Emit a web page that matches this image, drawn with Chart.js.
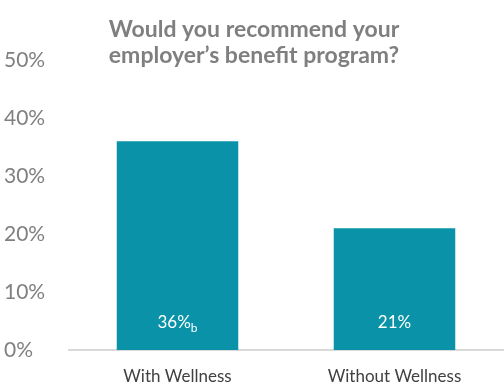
<!DOCTYPE html>
<html>
<head>
<meta charset="utf-8">
<script src="https://cdn.jsdelivr.net/npm/chart.js@4/dist/chart.umd.min.js"></script>
<style>
  html, body { margin: 0; padding: 0; background: #fff; }
  #wrap { width: 504px; height: 389px; }
</style>
</head>
<body>
<div id="wrap"><canvas id="chart"></canvas></div>
<script>
// data
const categories = ['With Wellness', 'Without Wellness'];
const values = [36, 21];
const labelNotes = ['b', ''];
const titleLines = ['Would you recommend your', 'employer\u2019s benefit program?'];
const yTicks = [0, 10, 20, 30, 40, 50];

const FONT = 'Lato, "Open Sans", sans-serif';

// title drawn over the plot top, like the original
const titlePlugin = {
  id: 'overTitle',
  afterDraw(chart) {
    const ctx = chart.ctx;
    ctx.save();
    ctx.font = 'bold 23px ' + FONT;
    ctx.fillStyle = '#7f7f7f';
    ctx.textAlign = 'center';
    ctx.textBaseline = 'alphabetic';
    titleLines.forEach((t, i) => ctx.fillText(t, 254, 37 + i * 26));
    ctx.restore();
  }
};

// value labels at the foot of each bar, with the small subscript note
const barLabels = {
  id: 'barLabels',
  afterDatasetsDraw(chart) {
    const ctx = chart.ctx;
    const meta = chart.getDatasetMeta(0);
    ctx.save();
    ctx.fillStyle = '#ffffff';
    ctx.textBaseline = 'alphabetic';
    meta.data.forEach((bar, i) => {
      const main = values[i] + '%';
      const note = labelNotes[i];
      ctx.font = '17px ' + FONT;
      const w1 = ctx.measureText(main).width;
      ctx.font = '12px ' + FONT;
      const w2 = note ? ctx.measureText(note).width : 0;
      const x0 = bar.x - (w1 + w2) / 2;
      const base = bar.base - 22;
      ctx.font = '17px ' + FONT;
      ctx.textAlign = 'left';
      ctx.fillText(main, x0, base);
      if (note) {
        ctx.font = '12px ' + FONT;
        ctx.fillText(note, x0 + w1, base + 4);
      }
    });
    ctx.restore();
  }
};

new Chart(document.getElementById('chart'), {
  type: 'bar',
  data: {
    labels: categories,
    datasets: [{
      data: values,
      backgroundColor: '#0a93a8',
      categoryPercentage: 0.56,
      barPercentage: 1
    }]
  },
  options: {
    responsive: true,
    maintainAspectRatio: false,
    animation: false,
    events: [],
    layout: { padding: { top: 60, left: 4, right: 1, bottom: 2 } },
    plugins: {
      legend: { display: false },
      tooltip: { enabled: false },
      title: { display: false }
    },
    scales: {
      x: {
        grid: { display: false },
        border: { display: true, color: '#d9d9d9', width: 2 },
        afterFit(axis) { axis.height = 37; },
        ticks: {
          color: '#404040',
          font: { family: FONT, size: 17 },
          padding: 8
        }
      },
      y: {
        min: 0,
        max: 50,
        grid: { display: false },
        border: { display: false },
        afterBuildTicks(axis) { axis.ticks = yTicks.map(v => ({ value: v })); },
        afterFit(axis) { axis.width = 65; },
        ticks: {
          crossAlign: 'far',
          color: '#808080',
          font: { family: FONT, size: 21 },
          callback: v => v + '%'
        }
      }
    }
  },
  plugins: [titlePlugin, barLabels]
});
</script>
</body>
</html>
